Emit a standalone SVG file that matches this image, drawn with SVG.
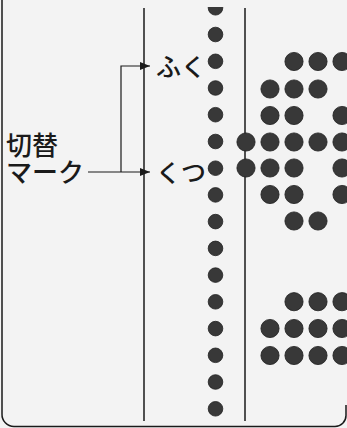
<svg xmlns="http://www.w3.org/2000/svg" xmlns:xlink="http://www.w3.org/1999/xlink" width="347" height="428" viewBox="0 0 347 428">
  <style>
    .rule { stroke: #1a1a1a; stroke-width: 1.5; fill: none; }
    .conn { stroke: #1a1a1a; stroke-width: 1.2; fill: none; }
    .lbl { font-family: "Noto Sans CJK JP", "Noto Sans", sans-serif; fill: #1a1a1a; font-weight: 500; }
    .big { font-size: 26px; }
    .mid { font-size: 25px; }
    .dot { fill: #383838; stroke: #1f1f1f; stroke-width: 0.8; }
  </style>
  <defs>
    <circle id="sd" class="dot" r="7.3"/>
    <circle id="bd" class="dot" r="9.1"/>
    <marker id="ah" viewBox="0 0 10 8" refX="10" refY="4" markerWidth="10" markerHeight="8" markerUnits="userSpaceOnUse" orient="auto">
      <path d="M0,0 L10,4 L0,8 Z" fill="#1a1a1a"/>
    </marker>
    <clipPath id="topclip"><rect x="0" y="7" width="347" height="421"/></clipPath>
  </defs>
  <rect x="0" y="0" width="347" height="428" fill="#f3f3f3"/>
  <path class="rule" d="M2,0 V414 A12,12 0 0 0 14,426.5 H335 A11,11 0 0 0 346,415.5 V405"/>
  <g id="rails">
    <line class="rule" x1="144" y1="8" x2="144" y2="421"/>
    <line class="rule" x1="245" y1="8" x2="245" y2="421"/>
  </g>
  <g id="track" clip-path="url(#topclip)">
    <use xlink:href="#sd" x="215.5" y="7.8"/>
    <use xlink:href="#sd" x="215.5" y="34.5"/>
    <use xlink:href="#sd" x="215.5" y="61.3"/>
    <use xlink:href="#sd" x="215.5" y="88"/>
    <use xlink:href="#sd" x="215.5" y="114.7"/>
    <use xlink:href="#sd" x="215.5" y="141.5"/>
    <use xlink:href="#sd" x="215.5" y="168.2"/>
    <use xlink:href="#sd" x="215.5" y="194.9"/>
    <use xlink:href="#sd" x="215.5" y="221.6"/>
    <use xlink:href="#sd" x="215.5" y="248.4"/>
    <use xlink:href="#sd" x="215.5" y="275.1"/>
    <use xlink:href="#sd" x="215.5" y="301.8"/>
    <use xlink:href="#sd" x="215.5" y="328.6"/>
    <use xlink:href="#sd" x="215.5" y="355.3"/>
    <use xlink:href="#sd" x="215.5" y="382"/>
    <use xlink:href="#sd" x="215.5" y="408.8"/>
  </g>
  <g id="pattern">
    <use xlink:href="#bd" x="294" y="61.5"/>
    <use xlink:href="#bd" x="318" y="61.5"/>
    <use xlink:href="#bd" x="342" y="61.5"/>
    <use xlink:href="#bd" x="270" y="89"/>
    <use xlink:href="#bd" x="294" y="89"/>
    <use xlink:href="#bd" x="318" y="89"/>
    <use xlink:href="#bd" x="270" y="115.5"/>
    <use xlink:href="#bd" x="294" y="115.5"/>
    <use xlink:href="#bd" x="342" y="115.5"/>
    <use xlink:href="#bd" x="246" y="142"/>
    <use xlink:href="#bd" x="270" y="142"/>
    <use xlink:href="#bd" x="294" y="142"/>
    <use xlink:href="#bd" x="318" y="142"/>
    <use xlink:href="#bd" x="342" y="142"/>
    <use xlink:href="#bd" x="246" y="168"/>
    <use xlink:href="#bd" x="270" y="168"/>
    <use xlink:href="#bd" x="294" y="168"/>
    <use xlink:href="#bd" x="342" y="168"/>
    <use xlink:href="#bd" x="270" y="194.5"/>
    <use xlink:href="#bd" x="294" y="194.5"/>
    <use xlink:href="#bd" x="342" y="194.5"/>
    <use xlink:href="#bd" x="294" y="221"/>
    <use xlink:href="#bd" x="318" y="221"/>
    <use xlink:href="#bd" x="294" y="301.7"/>
    <use xlink:href="#bd" x="318" y="301.7"/>
    <use xlink:href="#bd" x="342" y="301.7"/>
    <use xlink:href="#bd" x="270" y="328.5"/>
    <use xlink:href="#bd" x="294" y="328.5"/>
    <use xlink:href="#bd" x="318" y="328.5"/>
    <use xlink:href="#bd" x="342" y="328.5"/>
    <use xlink:href="#bd" x="270" y="355.5"/>
    <use xlink:href="#bd" x="294" y="355.5"/>
    <use xlink:href="#bd" x="318" y="355.5"/>
    <use xlink:href="#bd" x="342" y="355.5"/>
  </g>
  <g id="connectors">
    <path class="conn" d="M88,172 H150" marker-end="url(#ah)"/>
    <path class="conn" d="M121,172 V66 H150" marker-end="url(#ah)"/>
  </g>
  <g id="node-switch">
    <text class="lbl big"><tspan x="6" y="155">切替</tspan><tspan x="6" y="182">マーク</tspan></text>
  </g>
  <g id="node-fuku">
    <text class="lbl mid" x="156" y="76">ふく</text>
  </g>
  <g id="node-kutsu">
    <text class="lbl mid" x="156" y="182">くつ</text>
  </g>
</svg>
